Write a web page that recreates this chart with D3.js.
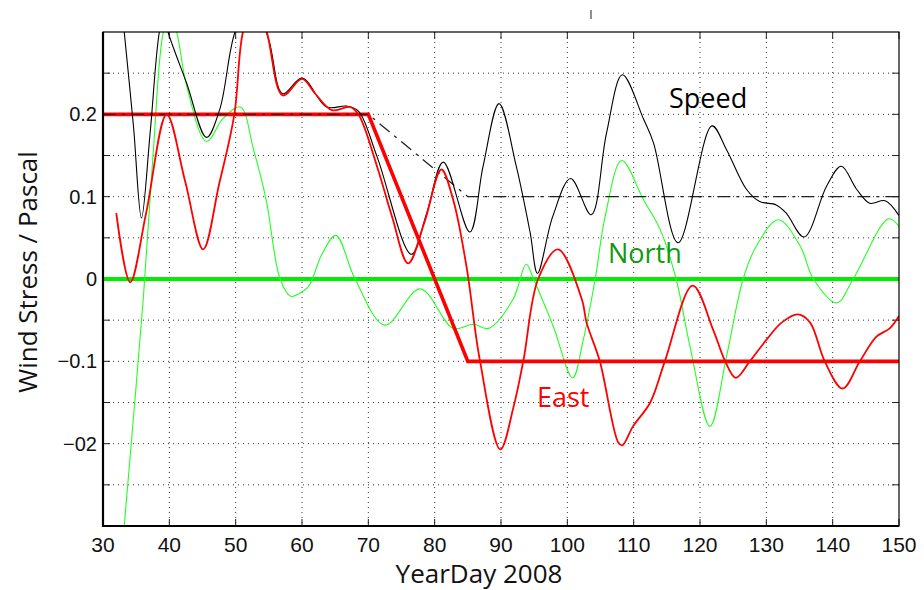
<!DOCTYPE html>
<html><head><meta charset="utf-8">
<script src="https://cdn.jsdelivr.net/npm/d3@7"></script>
<style>body{margin:0;background:#fff}</style>
</head><body>
<svg id="c" width="924" height="590"></svg>
<script>
// ---- data ----
const xTicks = [30,40,50,60,70,80,90,100,110,120,130,140,150];
const yTicks = [-0.25,-0.2,-0.15,-0.1,-0.05,0,0.05,0.1,0.15,0.2,0.25];
const yTickLabels = {"-0.2":"\u221202","-0.1":"\u22120.1","0":"0","0.1":"0.1","0.2":"0.2"};

const eastDay = [32,34.1,36.5,39.6,42.4,45.1,47.5,49.8,51.1,53,54.7,57.1,60.0,62,64.5,67.2,68.5,71.3,73.6,76.0,78.5,81.0,82.8,84.8,86.8,89.9,91.9,93.4,95.6,98.6,102.2,102.9,104.9,107.7,108.3,109.9,112.5,114.7,118.9,122.0,123.8,125.4,127.5,130,132.3,134.8,136.6,138.8,141.5,144.1,146.6,148.6,150];
const eastVal = [0.080,-0.004,0.08,0.200,0.118,0.036,0.115,0.20,0.30,0.34,0.30,0.223,0.243,0.225,0.205,0.209,0.20,0.137,0.075,0.019,0.07,0.133,0.096,0.015,-0.098,-0.207,-0.155,-0.098,0.0,0.036,-0.025,-0.053,-0.10,-0.199,-0.202,-0.179,-0.150,-0.100,-0.008,-0.062,-0.1,-0.120,-0.1,-0.074,-0.053,-0.043,-0.053,-0.1,-0.133,-0.1,-0.07,-0.06,-0.045];

const speedDay = [32,33.2,34.6,35.8,37.1,38.5,39.2,39.8,42.6,45.6,47.6,49.9,52.5,55,57.1,60.0,63.7,66.7,68.5,71.3,76.5,78.8,81.3,85.3,87.3,89.7,92.3,94.4,95.5,97.8,100.5,103.6,105.9,108.3,111.5,113.0,116.7,121.8,124.0,127.0,129.0,131.5,133.0,135.7,139.1,141.3,143.6,145.6,147.9,150];
const speedVal = [0.40,0.30,0.185,0.074,0.177,0.30,0.32,0.30,0.238,0.172,0.206,0.30,0.34,0.29,0.225,0.244,0.209,0.21,0.204,0.149,0.030,0.08,0.142,0.057,0.137,0.213,0.137,0.056,0.007,0.076,0.122,0.078,0.177,0.248,0.194,0.165,0.044,0.186,0.157,0.109,0.094,0.090,0.080,0.051,0.113,0.137,0.109,0.092,0.095,0.077];

const northDay = [32,33.2,36.1,37.6,39.1,40.1,41.1,42.6,45.6,48.1,50.7,52.7,54.6,56.7,58.3,59.7,61.0,63,65.1,68.0,72.5,77.8,82.8,85.8,88.1,91.8,93.8,94.9,97.9,100.8,102.4,104.2,105.7,108.2,111.5,114,116.4,118.5,121.5,124,126.5,128.5,131.8,135.1,137.1,140.6,143.1,148.4,150];
const northVal = [-0.42,-0.30,-0.021,0.157,0.30,0.32,0.30,0.235,0.167,0.195,0.209,0.157,0.096,0.0,-0.021,-0.017,-0.009,0.03,0.053,0.0,-0.056,-0.012,-0.06,-0.055,-0.06,-0.025,0.018,0.0,-0.058,-0.120,-0.074,0.0,0.076,0.144,0.096,0.06,0.0,-0.082,-0.179,-0.094,0.0,0.04,0.072,0.04,0.0,-0.029,0.0,0.073,0.064];

const modelEastDay = [30,70,85,150];
const modelEastVal = [0.2,0.2,-0.1,-0.1];
const modelSpeedDay = [30,70,85,150];
const modelSpeedVal = [0.2,0.2,0.1,0.1];
const modelNorthDay = [30,150];
const modelNorthVal = [0,0];

// ---- layout ----
const L=103, R=899, T=32, B=526;
const svg = d3.select("#c");
const x = d3.scaleLinear().domain([30,150]).range([L,R]);
const y = d3.scaleLinear().domain([-0.3,0.3]).range([B,T]);

svg.append("defs").append("clipPath").attr("id","clip")
  .append("rect").attr("x",L).attr("y",T).attr("width",R-L).attr("height",B-T);

// grid
const g = svg.append("g");
g.selectAll(".vg").data(xTicks.slice(1,-1)).join("line")
  .attr("x1",d=>x(d)).attr("x2",d=>x(d)).attr("y1",T).attr("y2",B)
  .attr("stroke","#333").attr("stroke-width",1).attr("stroke-dasharray","1,4");
g.selectAll(".hg").data(yTicks).join("line")
  .attr("y1",d=>y(d)).attr("y2",d=>y(d)).attr("x1",L).attr("x2",R)
  .attr("stroke","#333").attr("stroke-width",1).attr("stroke-dasharray","1,4");

// ticks (inward, all sides)
const tk = svg.append("g").attr("stroke","#222").attr("stroke-width",1);
xTicks.forEach(d=>{
  tk.append("line").attr("x1",x(d)).attr("x2",x(d)).attr("y1",B).attr("y2",B-7);
  tk.append("line").attr("x1",x(d)).attr("x2",x(d)).attr("y1",T).attr("y2",T+7);
});
yTicks.forEach(d=>{
  tk.append("line").attr("y1",y(d)).attr("y2",y(d)).attr("x1",L).attr("x2",L+7);
  tk.append("line").attr("y1",y(d)).attr("y2",y(d)).attr("x1",R).attr("x2",R-7);
});

// lines
const plot = svg.append("g").attr("clip-path","url(#clip)");
const mk = (days, vals) => days.map((d,i)=>[d, vals[i]]);
const lin = d3.line().x(d=>x(d[0])).y(d=>y(d[1]));
const smooth = d3.line().x(d=>x(d[0])).y(d=>y(d[1])).curve(d3.curveCatmullRom.alpha(0.5));

plot.append("path").attr("d",lin(mk(modelNorthDay,modelNorthVal)))
  .attr("fill","none").attr("stroke","#00ee00").attr("stroke-width",4);
plot.append("path").attr("d",smooth(mk(northDay,northVal)))
  .attr("fill","none").attr("stroke","#22ff22").attr("stroke-width",1.1);
plot.append("path").attr("d",lin(mk(modelEastDay,modelEastVal)))
  .attr("fill","none").attr("stroke","#ff0000").attr("stroke-width",3.6);
plot.append("path").attr("d",lin(mk(modelSpeedDay,modelSpeedVal)))
  .attr("fill","none").attr("stroke","#222").attr("stroke-width",1.3)
  .attr("stroke-dasharray","13,6,3,6");
plot.append("path").attr("d",smooth(mk(speedDay,speedVal)))
  .attr("fill","none").attr("stroke","#000").attr("stroke-width",1.1);
plot.append("path").attr("d",smooth(mk(eastDay,eastVal)))
  .attr("fill","none").attr("stroke","#ff0000").attr("stroke-width",1.8);

// frame
svg.append("rect").attr("x",L).attr("y",T).attr("width",R-L).attr("height",B-T)
  .attr("fill","none").attr("stroke","#000").attr("stroke-width",1.2);
svg.append("line").attr("x1",L).attr("x2",L).attr("y1",T).attr("y2",B+1).attr("stroke","#000").attr("stroke-width",2.2);
svg.append("line").attr("x1",L-1).attr("x2",R).attr("y1",B).attr("y2",B).attr("stroke","#000").attr("stroke-width",2.2);

// stray mark at top
svg.append("line").attr("x1",591).attr("x2",591).attr("y1",10).attr("y2",19).attr("stroke","#555").attr("stroke-width",1.3);

// tick labels
const tf = "'Liberation Sans', Arial, sans-serif";
svg.append("g").selectAll("text").data(xTicks).join("text")
  .attr("x",d=>x(d)).attr("y",552).attr("text-anchor","middle")
  .attr("font-family",tf).attr("font-size",21).attr("fill","#111").text(d=>d);
svg.append("g").selectAll("text").data(yTicks.filter(d=>yTickLabels[String(d)]!==undefined)).join("text")
  .attr("x",97).attr("y",d=>y(d)+7).attr("text-anchor","end")
  .attr("font-family",tf).attr("font-size",20).attr("fill","#111").text(d=>yTickLabels[String(d)]);

// axis labels
const lf = "'Open Sans', sans-serif";
svg.append("text").attr("x",479).attr("y",583).attr("text-anchor","middle")
  .attr("font-family",lf).attr("font-size",26).attr("fill","#111").text("YearDay 2008");
svg.append("text").attr("transform","translate(37,272) rotate(-90)").attr("text-anchor","middle")
  .attr("font-family",lf).attr("font-size",26).attr("fill","#111").text("Wind Stress / Pascal");

// series labels
svg.append("text").attr("x",669).attr("y",108).attr("font-family",lf).attr("font-size",27).attr("fill","#000").text("Speed");
svg.append("text").attr("x",608).attr("y",263).attr("font-family",lf).attr("font-size",27).attr("fill","#119911").text("North");
svg.append("text").attr("x",537).attr("y",407).attr("font-family",lf).attr("font-size",27).attr("fill","#ff0000").text("East");
</script>
</body></html>
